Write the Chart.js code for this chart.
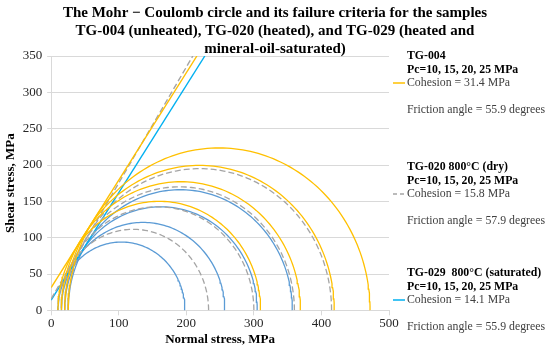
<!DOCTYPE html>
<html>
<head>
<meta charset="utf-8">
<script src="https://cdn.jsdelivr.net/npm/chart.js@4.4.1/dist/chart.umd.min.js"></script>
<style>
  html, body { margin: 0; padding: 0; background: #fff; }
  #wrap { width: 550px; height: 348px; }
</style>
</head>
<body>
<div id="wrap"><canvas id="mohr"></canvas></div>
<script>
// ===== DATA =====
const titleLines = [
  "The Mohr \u2212 Coulomb circle and its failure criteria for the samples",
  "TG-004 (unheated), TG-020 (heated), and TG-029 (heated and",
  "mineral-oil-saturated)"
];
const sampleNames = ["TG-004", "TG-020 800\u00b0C (dry)", "TG-029  800\u00b0C (saturated)"];
const pcLabel = "Pc=10, 15, 20, 25 MPa";

// confining pressure (sigma 3) and peak stress (sigma 1), MPa
const sigma3 = [10, 15, 20, 25];
const sigma1TG004 = [310, 369, 419, 472];
const sigma1TG020 = [233, 300, 360, 415];
const sigma1TG029 = [198, 257, 305, 357];

const cohesion = [31.4, 15.8, 14.1];
const frictionAngle = [55.9, 57.9, 55.9];

const xMax = 500, yMax = 350;

const circleColor = ["#FFC000", "#A5A5A5", "#5B9BD5"];
const lineColor = ["#FFC000", "#A5A5A5", "#00B0F0"];
const dash = [[], [6, 3], []];

// ===== BUILD SERIES =====
function mohrCircle(s3, s1) {
  const c = (s1 + s3) / 2, r = (s1 - s3) / 2, pts = [];
  for (let i = 0; i <= 120; i++) {
    const t = Math.PI * i / 120;
    pts.push({ x: c + r * Math.cos(t), y: r * Math.sin(t) });
  }
  return pts;
}

function envelope(c, phi) {
  const k = Math.tan(phi * Math.PI / 180);
  return [{ x: 0, y: c }, { x: (yMax - c) / k, y: yMax }];
}

const datasets = [];
[sigma1TG004, sigma1TG020, sigma1TG029].forEach((s1s, g) => {
  datasets.push({
    data: envelope(cohesion[g], frictionAngle[g]),
    borderColor: lineColor[g], borderWidth: 1.4, borderDash: dash[g]
  });
  s1s.forEach((s1, i) => {
    datasets.push({
      data: mohrCircle(sigma3[i], s1),
      borderColor: circleColor[g], borderWidth: 1.3, borderDash: dash[g]
    });
  });
});
datasets.forEach(d => { d.showLine = true; d.pointRadius = 0; d.fill = false; d.tension = 0; });

// ===== TEXT: title + legend =====
const textPlugin = {
  id: "texts",
  afterDraw(chart) {
    const ctx = chart.ctx, a = chart.chartArea;
    ctx.save();
    ctx.fillStyle = "#000";
    ctx.textBaseline = "middle";
    ctx.textAlign = "center";
    ctx.font = 'bold 15px "Liberation Serif"';
    titleLines.forEach((t, i) => ctx.fillText(t, 275, 13 + i * 18));

    ctx.textAlign = "left";
    const x0 = a.right + 18;
    const tops = [56, 167, 273];
    tops.forEach((y, g) => {
      ctx.fillStyle = "#000";
      ctx.font = 'bold 11.8px "Liberation Serif"';
      ctx.fillText(sampleNames[g], x0, y);
      ctx.fillText(pcLabel, x0, y + 14);
      ctx.fillStyle = "#404040";
      ctx.font = '11.8px "Liberation Serif"';
      ctx.fillText("Cohesion = " + cohesion[g] + " MPa", x0, y + 27);
      ctx.fillText("Friction angle = " + frictionAngle[g] + " degrees", x0, y + 54);
      ctx.strokeStyle = lineColor[g];
      ctx.lineWidth = 1.5;
      ctx.setLineDash(g === 1 ? [4, 3] : []);
      ctx.beginPath();
      ctx.moveTo(x0 - 14, y + 27);
      ctx.lineTo(x0 - 2, y + 27);
      ctx.stroke();
      ctx.setLineDash([]);
    });
    ctx.restore();
  }
};

const tickFont = { family: "'Liberation Serif'", size: 13, lineHeight: 1 };
const titleFont = { family: "'Liberation Serif'", size: 13, weight: "bold", lineHeight: 1.05 };

new Chart(document.getElementById("mohr"), {
  type: "scatter",
  data: { datasets },
  options: {
    responsive: true,
    maintainAspectRatio: false,
    animation: false,
    layout: { padding: { top: 56, right: 161, left: 4, bottom: 2 } },
    plugins: { legend: { display: false }, tooltip: { enabled: false }, title: { display: false } },
    scales: {
      x: {
        min: 0, max: xMax,
        ticks: { stepSize: 100, font: tickFont, color: "#262626", padding: 2 },
        grid: { color: "rgba(0,0,0,0)", tickColor: "#D9D9D9", tickLength: 5 },
        border: { display: true, color: "#D9D9D9" },
        title: { display: true, text: "Normal stress, MPa", font: titleFont, color: "#000", padding: 0 }
      },
      y: {
        min: 0, max: yMax,
        ticks: { stepSize: 50, font: tickFont, color: "#262626", padding: 5 },
        grid: { color: "#D9D9D9", tickColor: "#D9D9D9", tickLength: 4 },
        border: { display: true, color: "#D9D9D9" },
        title: { display: true, text: "Shear stress, MPa", font: titleFont, color: "#000", padding: 0 }
      }
    }
  },
  plugins: [textPlugin]
});
</script>
</body>
</html>
